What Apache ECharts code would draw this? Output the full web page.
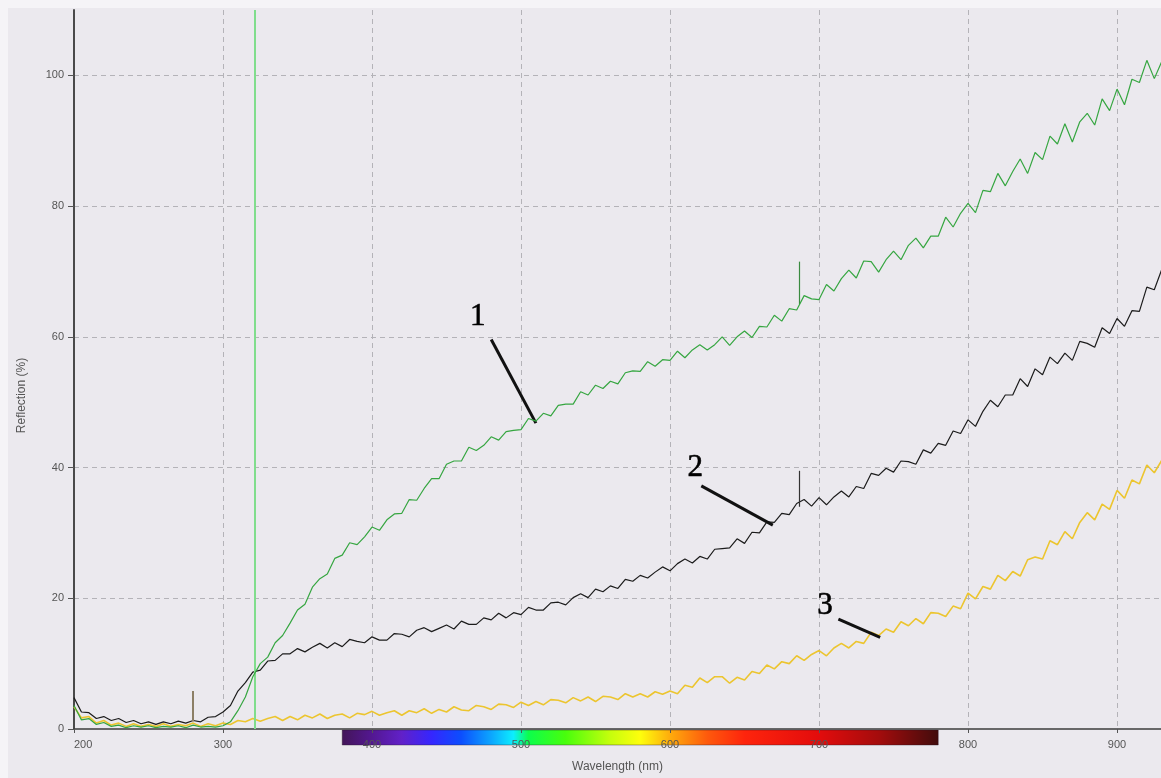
<!DOCTYPE html>
<html><head><meta charset="utf-8">
<script src="https://cdn.jsdelivr.net/npm/echarts@6/dist/echarts.min.js"></script>
<style>
html,body{margin:0;padding:0;background:#f5f4f7;width:1161px;height:778px;overflow:hidden;}
#c{position:absolute;left:8px;top:8px;width:1153px;height:770px;background:#ebe9ee;}
</style>
</head><body><div id="c"></div>
<script>
// Sample wavelengths (nm): 200 .. 930, every 5 nm
const wlStart = 200, wlStep = 5;

// Curve 1 (green), Reflection %
const curve1 = [
 3.6, 1.4, 1.6, 0.7, 1.0, 0.4, 0.6, 0.2, 0.5, 0.3,
 0.5, 0.2, 0.4, 0.3, 0.5, 0.2, 0.6, 0.3, 0.4, 0.3,
 0.5, 1.1, 2.8, 4.9, 8.0, 10.0, 11.0, 13.2, 14.3, 16.2,
 18.2, 19.1, 21.7, 23.0, 23.7, 26.1, 26.6, 28.5, 28.2, 29.4,
 30.9, 30.4, 32.0, 32.9, 33.0, 35.1, 35.0, 36.8, 38.3, 38.3,
 40.5, 41.0, 41.0, 43.1, 42.6, 43.4, 44.7, 44.2, 45.5, 45.7,
 45.8, 47.5, 47.1, 48.3, 47.9, 49.5, 49.7, 49.7, 51.6, 51.1,
 52.6, 52.1, 53.2, 52.8, 54.5, 54.8, 54.7, 56.2, 55.5, 56.5,
 56.4, 57.8, 56.8, 58.0, 58.8, 58.0, 58.8, 60.0, 58.7, 60.0,
 60.9, 59.9, 61.6, 61.5, 63.3, 62.4, 64.3, 64.1, 66.3, 65.8,
 65.7, 68.0, 67.0, 68.9, 70.2, 69.0, 71.6, 71.5, 69.9, 71.8,
 73.1, 71.8, 74.0, 75.1, 73.6, 75.4, 75.4, 78.3, 76.8, 78.9,
 80.4, 79.0, 82.4, 82.2, 85.0, 83.1, 85.3, 87.2, 85.0, 88.2,
 87.1, 90.7, 89.5, 92.6, 89.8, 92.9, 94.2, 92.4, 96.4, 94.6,
 97.9, 95.5, 99.4, 98.9, 102.3, 99.5, 102.1
];

// Curve 2 (black)
const curve2 = [
 4.8, 2.6, 2.5, 1.6, 1.9, 1.3, 1.6, 1.0, 1.3, 0.8,
 1.1, 0.7, 1.1, 0.8, 1.2, 0.9, 1.3, 1.1, 1.8, 1.9,
 2.6, 3.6, 5.8, 7.1, 8.7, 9.0, 10.4, 10.5, 11.5, 11.5,
 12.3, 11.8, 12.5, 13.1, 12.4, 13.2, 12.6, 13.7, 13.4, 13.2,
 14.1, 13.6, 13.6, 14.6, 14.5, 14.1, 15.1, 15.5, 14.9, 15.4,
 15.9, 15.3, 16.5, 16.0, 16.0, 17.0, 16.7, 17.7, 17.0, 17.8,
 17.5, 18.6, 18.2, 18.2, 19.3, 19.4, 19.0, 20.1, 20.7, 20.1,
 21.4, 21.0, 21.9, 21.5, 22.9, 22.6, 23.5, 23.1, 24.0, 24.8,
 24.2, 25.3, 26.0, 25.4, 26.4, 26.0, 27.5, 27.6, 27.7, 29.1,
 28.4, 30.1, 30.0, 31.7, 31.6, 33.0, 32.8, 34.5, 35.1, 34.1,
 35.4, 34.3, 35.5, 36.4, 35.5, 37.1, 36.8, 39.1, 38.8, 39.9,
 39.3, 41.0, 40.9, 40.5, 42.7, 42.2, 43.7, 43.4, 45.6, 45.2,
 47.3, 46.3, 48.6, 50.3, 49.3, 51.1, 51.1, 53.6, 52.4, 55.1,
 54.2, 56.9, 55.9, 57.5, 56.4, 59.3, 59.0, 58.4, 61.4, 60.5,
 62.8, 61.6, 64.0, 63.9, 67.6, 67.2, 70.3
];

// Curve 3 (yellow)
const curve3 = [
 3.4, 1.7, 1.9, 0.9, 1.3, 0.6, 0.9, 0.4, 0.8, 0.4,
 0.7, 0.4, 0.8, 0.4, 0.7, 0.5, 0.9, 0.4, 0.8, 0.5,
 0.9, 0.7, 1.3, 1.1, 1.6, 1.2, 1.6, 1.9, 1.3, 1.9,
 1.4, 2.1, 1.7, 2.3, 1.6, 2.1, 2.3, 1.7, 2.4, 2.2,
 2.7, 2.1, 2.5, 2.8, 2.1, 2.8, 2.5, 3.1, 2.4, 3.0,
 2.6, 3.4, 2.9, 2.8, 3.6, 3.4, 3.0, 3.8, 3.7, 3.3,
 4.1, 3.6, 4.2, 3.7, 4.5, 4.4, 4.0, 4.8, 4.3, 4.9,
 4.2, 5.0, 4.9, 4.5, 5.4, 4.9, 5.4, 4.9, 5.7, 5.3,
 5.8, 5.4, 6.7, 6.4, 7.8, 7.1, 8.0, 8.0, 7.0, 7.9,
 7.5, 8.8, 8.5, 9.8, 9.2, 10.3, 10.0, 11.2, 10.5, 11.4,
 12.0, 11.2, 12.4, 13.1, 12.4, 13.4, 13.1, 14.8, 14.3, 15.3,
 14.8, 16.4, 15.8, 16.9, 16.1, 17.8, 17.7, 17.2, 18.8, 18.4,
 20.8, 19.9, 21.8, 21.4, 23.5, 22.7, 24.1, 23.4, 25.9, 26.3,
 26.0, 28.8, 28.2, 30.2, 29.1, 31.6, 33.1, 32.0, 34.4, 33.6,
 36.5, 35.3, 38.1, 37.5, 40.4, 39.2, 41.1
];

// Narrow spikes in the spectra: [wavelength, base, top]
const spike1 = [687, 65.0, 71.5];
const spike2 = [687, 34.0, 39.5];
const marker280 = [280, 1.2, 5.8];

// Vertical cursor line (nm)
const cursorWl = 321;

// Curve number labels: [wavelength, value, text]
const curveLabels = [[471, 63.1, '1'], [617, 40.0, '2'], [704, 18.8, '3']];
// Leader lines: [[wl, value], [wl, value]]
const leaders = [
  [[480, 59.6], [510, 46.8]],
  [[621, 37.2], [669, 31.2]],
  [[713, 16.8], [741, 14.0]]
];

// Visible spectrum colour bar range (nm)
const specRange = [380, 780];
const specStops = [
  [380, '#3a0a50'], [400, '#4b0c8c'], [420, '#5a16c6'], [440, '#2c1cff'],
  [460, '#0046ff'], [480, '#00a2ff'], [495, '#00eeff'], [505, '#00ff44'],
  [530, '#40ff00'], [560, '#c4ff00'], [580, '#ffff00'], [600, '#ffa800'],
  [625, '#ff5200'], [650, '#ff1a00'], [700, '#e20000'], [740, '#a00000'], [780, '#380000']
];

const xTicks = { min: 200, max: 929.5, interval: 100 };
const yTicks = { min: 0, max: 110, interval: 20 };

function pairs(arr) {
  return arr.map((v, i) => [wlStart + i * wlStep, v]);
}
function seg(a, b, style) {
  return [{ coord: a, lineStyle: style }, { coord: b }];
}

const chart = echarts.init(document.getElementById('c'), null, { renderer: 'canvas' });
const font = 'Liberation Sans, Arial, sans-serif';
const leaderStyle = { color: '#111', width: 3, type: 'solid' };

const option = {
  animation: false,
  backgroundColor: '#ebe9ee',
  grid: { left: 66, top: 2, right: 0, bottom: 46 },
  xAxis: {
    type: 'value', min: xTicks.min, max: xTicks.max, interval: xTicks.interval,
    axisLine: { lineStyle: { color: '#3c3c3c', width: 1.5 } },
    axisTick: { show: true, length: 4, lineStyle: { color: '#555' } },
    axisLabel: { color: '#555', fontSize: 11, fontFamily: font, margin: 10, showMaxLabel: false, alignMinLabel: 'left' },
    splitLine: { show: true, showMinLine: false, showMaxLine: false, lineStyle: { color: '#b4b3b8', type: [5, 4], width: 1 } },
    name: 'Wavelength (nm)', nameLocation: 'middle', nameGap: 32,
    nameTextStyle: { color: '#555', fontSize: 12, fontFamily: font }
  },
  yAxis: {
    type: 'value', min: yTicks.min, max: yTicks.max, interval: yTicks.interval,
    axisLine: { show: true, lineStyle: { color: '#4a4a4a', width: 2 } },
    axisTick: { show: true, length: 6, lineStyle: { color: '#555' } },
    axisLabel: { color: '#555', fontSize: 11, fontFamily: font, margin: 10, showMaxLabel: false },
    splitLine: { show: true, showMinLine: false, showMaxLine: false, lineStyle: { color: '#b4b3b8', type: [5, 4], width: 1 } },
    name: 'Reflection (%)', nameLocation: 'middle', nameGap: 46, nameRotate: 90,
    nameTextStyle: { color: '#555', fontSize: 12, fontFamily: font, padding: [0, 52, 0, 0] }
  },
  series: [
    {
      name: 'yellow', type: 'line', data: pairs(curve3), showSymbol: false, symbol: 'none',
      lineStyle: { color: '#ecc52f', width: 1.6 }, z: 3,
      markLine: {
        silent: true, symbol: 'none', label: { show: false }, animation: false,
        data: [ seg(leaders[2][0], leaders[2][1], leaderStyle) ]
      }
    },
    {
      name: 'black', type: 'line', data: pairs(curve2), showSymbol: false, symbol: 'none',
      lineStyle: { color: '#1c1c1c', width: 1.2 }, z: 4,
      markLine: {
        silent: true, symbol: 'none', label: { show: false }, animation: false,
        data: [
          seg([spike2[0], spike2[1]], [spike2[0], spike2[2]], { color: '#333', width: 1.2, type: 'solid' }),
          seg([marker280[0], marker280[1]], [marker280[0], marker280[2]], { color: '#8c7f66', width: 2, type: 'solid' }),
          seg(leaders[1][0], leaders[1][1], leaderStyle)
        ]
      }
    },
    {
      name: 'green', type: 'line', data: pairs(curve1), showSymbol: false, symbol: 'none',
      lineStyle: { color: '#36a641', width: 1.2 }, z: 5,
      markLine: {
        silent: true, symbol: 'none', label: { show: false }, animation: false,
        data: [
          { xAxis: cursorWl, lineStyle: { color: '#80dd8c', width: 2, type: 'solid' } },
          seg([spike1[0], spike1[1]], [spike1[0], spike1[2]], { color: '#3a8a40', width: 1.2, type: 'solid' }),
          seg(leaders[0][0], leaders[0][1], leaderStyle)
        ]
      }
    },
    {
      name: 'labels', type: 'scatter', symbolSize: 1, itemStyle: { color: 'transparent' }, z: 6,
      data: curveLabels.map(d => ({ value: [d[0], d[1]], name: d[2] })),
      label: { show: true, position: 'inside', formatter: '{b}', fontFamily: 'Liberation Serif, serif', fontSize: 31,
               color: '#000', opacity: 1, textBorderColor: '#000', textBorderWidth: 0.6 }
    }
  ]
};
chart.setOption(option);

const p0 = chart.convertToPixel({ gridIndex: 0 }, [specRange[0], 0]);
const p1 = chart.convertToPixel({ gridIndex: 0 }, [specRange[1], 0]);
const span = specRange[1] - specRange[0];
chart.setOption({
  graphic: [{
    type: 'rect', z: -1,
    shape: { x: p0[0], y: p0[1] + 1, width: p1[0] - p0[0], height: 15 },
    style: {
      opacity: 0.95,
      stroke: 'rgba(40,20,40,0.5)', lineWidth: 0.8,
      fill: {
        type: 'linear', x: 0, y: 0, x2: 1, y2: 0,
        colorStops: specStops.map(s => ({ offset: (s[0] - specRange[0]) / span, color: s[1] }))
      }
    }
  }]
});
</script></body></html>
